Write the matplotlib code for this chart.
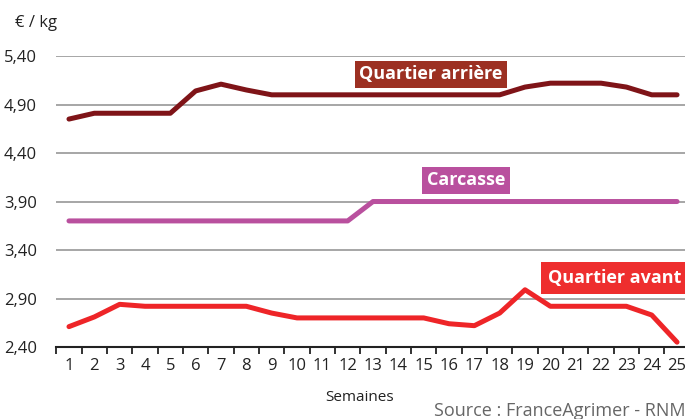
import matplotlib.pyplot as plt
import numpy as np

plt.rcParams['font.family'] = ['Open Sans', 'DejaVu Sans']

semaines = list(range(1, 26))
quartier_arriere = [4.75, 4.81, 4.81, 4.81, 4.81, 5.04, 5.11, 5.05, 5.00, 5.00,
                    5.00, 5.00, 5.00, 5.00, 5.00, 5.00, 5.00, 5.00, 5.08, 5.12,
                    5.12, 5.12, 5.08, 5.00, 5.00]
carcasse = [3.70] * 12 + [3.90] * 13
quartier_avant = [2.61, 2.71, 2.84, 2.82, 2.82, 2.82, 2.82, 2.82, 2.75, 2.70,
                  2.70, 2.70, 2.70, 2.70, 2.70, 2.64, 2.62, 2.75, 2.99, 2.82,
                  2.82, 2.82, 2.82, 2.73, 2.45]
y_ticks = [2.40, 2.90, 3.40, 3.90, 4.40, 4.90, 5.40]

c_arr = '#7f1418'
c_car = '#b9509e'
c_av = '#ee2528'

fig = plt.figure(figsize=(6.85, 4.19), dpi=100)
ax = fig.add_axes([0.0822, 0.1718, 0.9178, 0.6945])

for v in y_ticks[1:]:
    ax.axhline(v, color='#a6a6a6', lw=1.4, zorder=1)

kw = dict(lw=3.6, solid_capstyle='round', solid_joinstyle='round', clip_on=False, zorder=3)
ax.plot(semaines, quartier_arriere, color=c_arr, **kw)
ax.plot(semaines, carcasse, color=c_car, **kw)
ax.plot(semaines, quartier_avant, color=c_av, **kw)

ax.set_xlim(0.5, 25.314)
ax.set_ylim(2.40, 5.40)
ax.set_yticks(y_ticks)
ax.set_yticklabels([f'{v:.2f}'.replace('.', ',') for v in y_ticks])
ax.set_xticks(semaines)
ax.set_xticklabels([str(s) for s in semaines])
ax.set_xticks(np.arange(0.5, 25.5, 1), minor=True)
ax.tick_params(axis='x', which='major', length=0, pad=8, labelsize=12, colors='#222222')
ax.tick_params(axis='x', which='minor', length=5, width=1.3, color='#222222')
ax.tick_params(axis='y', length=0, pad=14, labelsize=12, colors='#222222')
for s in ['top', 'right', 'left']:
    ax.spines[s].set_visible(False)
ax.spines['bottom'].set_linewidth(1.5)
ax.spines['bottom'].set_color('#222222')

box = dict(boxstyle='square,pad=0.25', lw=0)
ax.text(15.29, 5.21, 'Quartier arrière', color='white', fontsize=13, fontweight='bold',
        ha='center', va='center', bbox=dict(fc='#9c3022', **box))
ax.text(16.67, 4.12, 'Carcasse', color='white', fontsize=13, fontweight='bold',
        ha='center', va='center', bbox=dict(fc=c_car, **box))
ax.text(22.55, 3.11, 'Quartier avant', color='white', fontsize=13, fontweight='bold',
        ha='center', va='center', bbox=dict(fc='#ee2e2e', boxstyle='square,pad=0.4', lw=0))

fig.text(0.022, 0.945, '€ / kg', fontsize=12, color='#222222', va='center')
fig.text(0.525, 0.052, 'Semaines', fontsize=11, color='#222222', ha='center', va='center')
fig.text(1.0, 0.018, 'Source : FranceAgrimer - RNM', fontsize=13, color='#666666',
         ha='right', va='center')

fig.savefig('out.png', dpi=100)
